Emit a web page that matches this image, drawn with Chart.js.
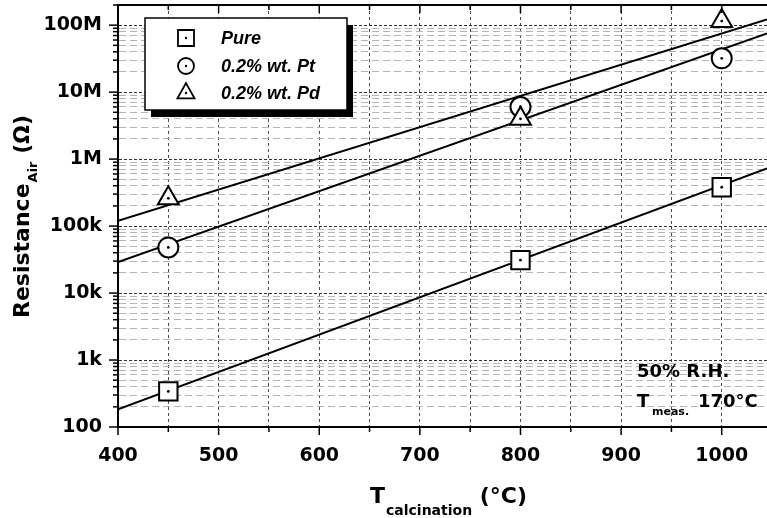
<!DOCTYPE html>
<html>
<head>
<meta charset="utf-8">
<script src="https://cdn.jsdelivr.net/npm/chart.js@4/dist/chart.umd.min.js"></script>
<style>
  html, body { margin: 0; padding: 0; background: #fff; }
  #wrap { width: 767px; height: 518px; }
</style>
</head>
<body>
<div id="wrap"><canvas id="c" width="767" height="518"></canvas></div>
<script>
// Calcination temperature (°C) of the measured samples
const calcTemps = [450, 800, 1000];
// Resistance in air (Ω) at 50% R.H., 170 °C
const resPure = [340, 31000, 380000];
const resPt = [48000, 6000000, 32000000];
const resPd = [260000, 4000000, 115000000];
// Exponential fit lines, end values across the plotted range
const fitTemps = [400, 1045];
const fitPure = [184, 726000];
const fitPt = [29000, 75000000];
const fitPd = [120000, 122000000];

const seriesNames = ['Pure', '0.2% wt. Pt', '0.2% wt. Pd'];
const yTickValues = [1e2, 1e3, 1e4, 1e5, 1e6, 1e7, 1e8];
const yTickLabels = ['100', '1k', '10k', '100k', '1M', '10M', '100M'];
const xTickLabels = [400, 500, 600, 700, 800, 900, 1000];

const FONT = "'DejaVu Sans', 'Liberation Sans', sans-serif";
const LEGEND_FONT = "'Liberation Sans', Arial, sans-serif";
Chart.defaults.font.family = FONT;
Chart.defaults.color = '#000';

const pts = (xs, ys) => xs.map((x, i) => ({ x: x, y: ys[i] }));
const isDecade = v => yTickValues.includes(v);

// every 50 °C gets a grid line / tick
const xGrid = [];
for (let t = 400; t <= 1000; t += 50) xGrid.push(t);

function fitLine(data) {
  return {
    data: data, showLine: true, fill: false, borderColor: '#000', borderWidth: 2,
    pointRadius: 0, pointHoverRadius: 0, order: 10
  };
}
function markers(label, data, style, radius, order) {
  return {
    label: label, data: data, showLine: false, pointStyle: style, pointRadius: radius,
    pointHoverRadius: radius, pointBorderColor: '#000', pointBackgroundColor: '#fff',
    pointBorderWidth: 2, borderColor: '#000', backgroundColor: '#fff', order: order
  };
}

const whiteBg = {
  id: 'whiteBg',
  beforeDraw(chart) {
    const c = chart.ctx;
    c.save(); c.fillStyle = '#fff'; c.fillRect(0, 0, chart.width, chart.height); c.restore();
  }
};

// small dot in the centre of every marker
const centerDots = {
  id: 'centerDots',
  afterDatasetsDraw(chart) {
    const c = chart.ctx;
    c.save();
    c.fillStyle = '#000';
    chart.data.datasets.forEach((ds, i) => {
      if (!ds.label) return;
      chart.getDatasetMeta(i).data.forEach(el => {
        c.beginPath(); c.arc(el.x, el.y, 1.4, 0, Math.PI * 2); c.fill();
      });
    });
    c.restore();
  }
};

// frame on top and tick marks of both axes
const axisMarks = {
  id: 'axisMarks',
  afterDraw(chart) {
    const c = chart.ctx, a = chart.chartArea;
    const xs = chart.scales.x, ys = chart.scales.y;
    c.save();
    c.strokeStyle = '#000';
    c.lineWidth = 2;
    c.beginPath(); c.moveTo(a.left - 1, a.top); c.lineTo(a.right, a.top); c.stroke();
    c.lineWidth = 1.5;
    xs.ticks.forEach(t => {
      const px = xs.getPixelForValue(t.value);
      const major = t.value % 100 === 0;
      c.beginPath();
      c.moveTo(px, a.bottom); c.lineTo(px, a.bottom + (major ? 8 : 5));
      c.moveTo(px, a.top); c.lineTo(px, a.top + (major ? 8 : 5));
      c.stroke();
    });
    ys.ticks.forEach(t => {
      const py = ys.getPixelForValue(t.value);
      const major = isDecade(t.value);
      c.beginPath();
      c.moveTo(a.left, py); c.lineTo(a.left - (major ? 9 : 5), py);
      c.stroke();
    });
    c.restore();
  }
};

function drawMarker(c, style, x, y, r) {
  c.beginPath();
  if (style === 'rect') {
    c.rect(x - r, y - r, 2 * r, 2 * r);
  } else if (style === 'circle') {
    c.arc(x, y, r, 0, Math.PI * 2);
  } else {
    c.moveTo(x, y - r * 1.1);
    c.lineTo(x + r * 0.95, y + r * 0.6);
    c.lineTo(x - r * 0.95, y + r * 0.6);
    c.closePath();
  }
  c.fillStyle = '#fff'; c.fill();
  c.stroke();
  c.fillStyle = '#000';
  c.beginPath(); c.arc(x, y, 1.2, 0, Math.PI * 2); c.fill();
}

// legend box with drop shadow, titles with subscripts, condition note
const decorations = {
  id: 'decorations',
  afterDraw(chart) {
    const c = chart.ctx;
    c.save();
    // legend
    const bx = 145, by = 18, bw = 202, bh = 92;
    c.fillStyle = '#000';
    c.fillRect(bx + 6, by + 7, bw, bh);
    c.fillStyle = '#fff';
    c.fillRect(bx, by, bw, bh);
    c.strokeStyle = '#000'; c.lineWidth = 1.5;
    c.strokeRect(bx, by, bw, bh);
    const styles = ['rect', 'circle', 'triangle'];
    const sizes = [8, 8, 9];
    const rows = [38, 66, 93];
    c.lineWidth = 1.8;
    styles.forEach((s, i) => {
      drawMarker(c, s, 186, rows[i], sizes[i]);
      c.fillStyle = '#000';
      c.font = 'italic bold 18px ' + LEGEND_FONT;
      c.textBaseline = 'middle';
      c.textAlign = 'left';
      c.fillText(seriesNames[i], 221, rows[i] + 1);
    });

    c.fillStyle = '#000';
    c.textBaseline = 'alphabetic';
    c.textAlign = 'left';

    // y title: Resistance_Air (Ω)
    c.save();
    c.translate(29, 318);
    c.rotate(-Math.PI / 2);
    c.font = 'bold 22px ' + FONT;
    c.fillText('Resistance', 0, 0);
    let w = c.measureText('Resistance').width;
    c.font = 'bold 13px ' + FONT;
    c.fillText('Air', w + 1, 8);
    w += 1 + c.measureText('Air').width;
    c.font = 'bold 22px ' + FONT;
    c.fillText(' (\u03A9)', w, 0);
    c.restore();

    // x title: T_calcination (°C)
    let x = 370;
    c.font = 'bold 22px ' + FONT;
    c.fillText('T', x, 503);
    x += c.measureText('T').width + 1;
    c.font = 'bold 14px ' + FONT;
    c.fillText('calcination', x, 515);
    x += c.measureText('calcination').width;
    c.font = 'bold 22px ' + FONT;
    c.fillText(' (\u00B0C)', x, 503);

    // measurement conditions
    c.font = 'bold 18px ' + FONT;
    c.fillText('50% R.H.', 637, 377);
    c.fillText('T', 637, 407);
    c.font = 'bold 11px ' + FONT;
    c.fillText('meas.', 652, 415);
    c.font = 'bold 18px ' + FONT;
    c.fillText('170\u00B0C', 698, 407);
    c.restore();
  }
};

new Chart(document.getElementById('c'), {
  type: 'scatter',
  data: {
    datasets: [
      fitLine(pts(fitTemps, fitPure)),
      fitLine(pts(fitTemps, fitPt)),
      fitLine(pts(fitTemps, fitPd)),
      markers(seriesNames[0], pts(calcTemps, resPure), 'rect', 13, 3),
      markers(seriesNames[1], pts(calcTemps, resPt), 'circle', 10, 2),
      markers(seriesNames[2], pts(calcTemps, resPd), 'triangle', 12, 1)
    ]
  },
  options: {
    responsive: false,
    animation: false,
    devicePixelRatio: 1,
    layout: { autoPadding: false, padding: { top: 5, left: 0, right: 0, bottom: 0 } },
    plugins: { legend: { display: false }, tooltip: { enabled: false } },
    scales: {
      x: {
        type: 'linear', min: 400, max: 1045,
        afterBuildTicks(s) { s.ticks = xGrid.map(v => ({ value: v })); },
        afterFit(s) { s.height = 91; s.paddingLeft = 0; s.paddingRight = 0; },
        ticks: {
          autoSkip: false, maxRotation: 0, padding: 18,
          font: { size: 19, weight: 'bold' }, color: '#000',
          callback: v => xTickLabels.includes(v) ? String(v) : ''
        },
        grid: { drawTicks: false, color: '#4a4a4a', lineWidth: 1 },
        border: { display: true, color: '#000', width: 2, dash: [3, 3] }
      },
      y: {
        type: 'logarithmic', min: 100, max: 2e8,
        afterBuildTicks(s) {
          const t = [];
          for (let e = 2; e <= 8; e++) {
            for (let d = 1; d <= 9; d++) {
              const v = d * Math.pow(10, e);
              if (v <= 2e8) t.push({ value: v });
            }
          }
          s.ticks = t;
        },
        afterFit(s) { s.width = 118; s.paddingTop = 0; s.paddingBottom = 0; },
        ticks: {
          autoSkip: false, padding: 16,
          font: { size: 19, weight: 'bold' }, color: '#000',
          callback: v => { const i = yTickValues.indexOf(v); return i >= 0 ? yTickLabels[i] : ''; }
        },
        grid: {
          drawTicks: false, lineWidth: 1,
          color: ctx => (ctx.tick && isDecade(ctx.tick.value)) ? '#333' : '#b4b4b4'
        },
        border: {
          display: true, color: '#000', width: 2,
          dash: ctx => (ctx.tick && isDecade(ctx.tick.value)) ? [3, 2] : [7, 4]
        }
      }
    }
  },
  plugins: [whiteBg, centerDots, axisMarks, decorations]
});
</script>
</body>
</html>
